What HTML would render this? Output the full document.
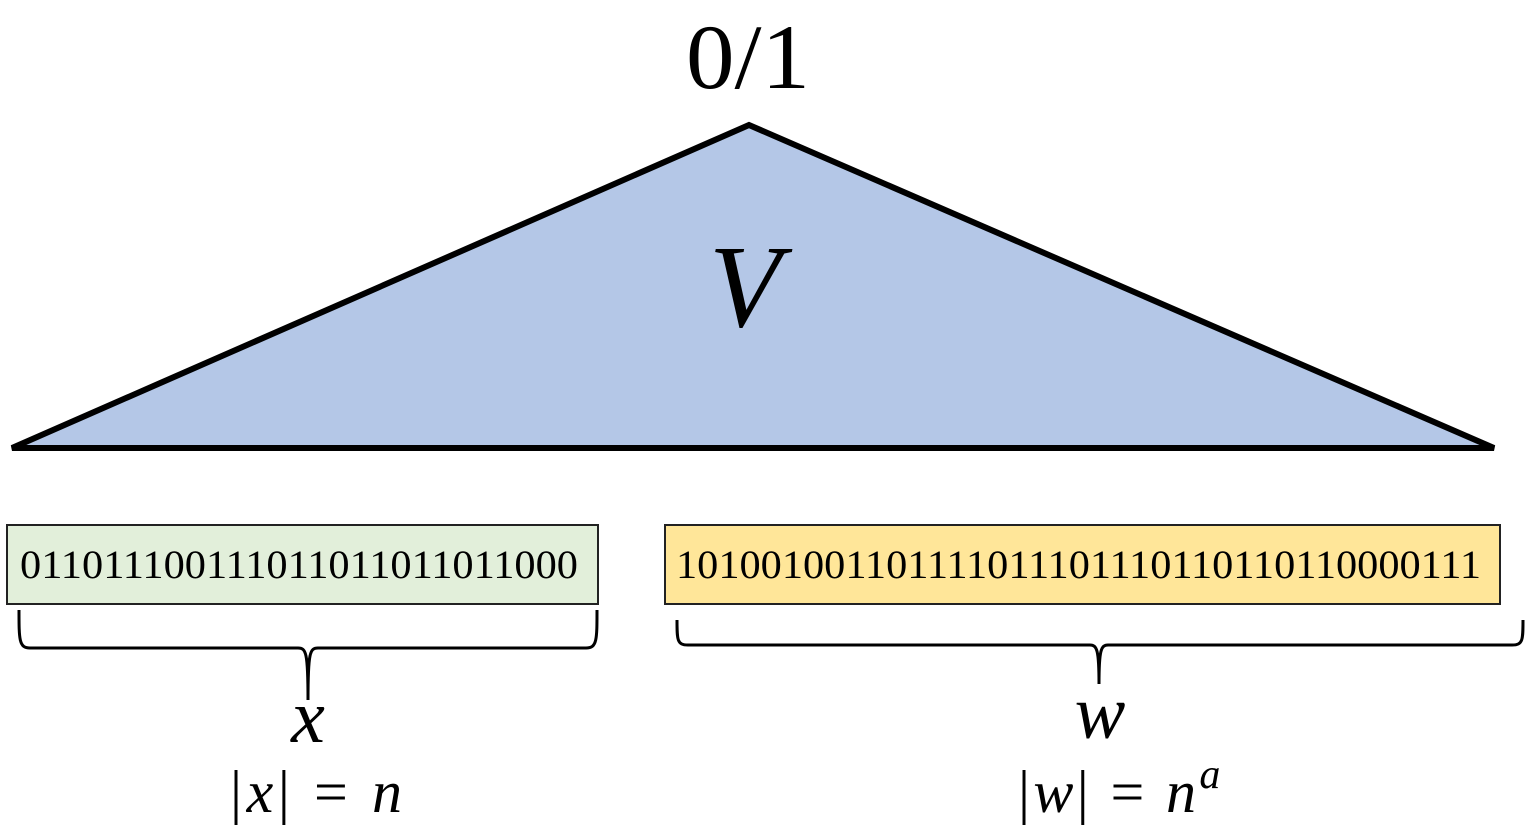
<!DOCTYPE html>
<html><head><meta charset="utf-8"><style>
html,body{margin:0;padding:0;background:#fff;}
svg{display:block;}
text{font-family:"Liberation Serif","DejaVu Serif",serif;fill:#000;}
</style></head><body>
<svg width="1526" height="833" viewBox="0 0 1526 833">
  <text x="686" y="88" font-size="92" textLength="124" lengthAdjust="spacingAndGlyphs">0/1</text>
  <polygon points="749,125 12,448 1494,448" fill="#b4c7e7" stroke="#000" stroke-width="6" stroke-linejoin="miter"/>
  <text x="745" y="326" font-size="118" font-style="italic" text-anchor="middle">V</text>

  <rect x="7" y="525" width="591" height="79" fill="#e2efda" stroke="#222" stroke-width="2"/>
  <text x="20" y="578" font-size="40" textLength="558" lengthAdjust="spacingAndGlyphs">011011100111011011011011000</text>

  <rect x="665" y="525" width="835" height="79" fill="#ffe699" stroke="#222" stroke-width="2"/>
  <text x="676" y="578" font-size="40" textLength="805" lengthAdjust="spacingAndGlyphs">101001001101111011101110110110110000111</text>

  <path d="M19,610 C19,640 19,648 30,648 L298,648 C306,648 308,652 308,700 C308,652 310,648 318,648 L586,648 C597,648 597,640 597,610" fill="none" stroke="#000" stroke-width="3"/>
  <path d="M677,620 C677,640 677,645 688,645 L1090,645 C1097,645 1099,650 1099,684 C1099,650 1101,645 1108,645 L1512,645 C1523,645 1523,640 1523,620" fill="none" stroke="#000" stroke-width="3"/>

  <text x="308" y="742" font-size="76" font-style="italic" text-anchor="middle">x</text>
  <text x="1100" y="738" font-size="76" font-style="italic" text-anchor="middle">w</text>

  <text x="230" y="812" font-size="60" textLength="172" lengthAdjust="spacing">|<tspan font-style="italic">x</tspan>| = <tspan font-style="italic">n</tspan></text>
  <text x="1018" y="812" font-size="60"><tspan textLength="178" lengthAdjust="spacing">|<tspan font-style="italic">w</tspan>| = <tspan font-style="italic">n</tspan></tspan><tspan font-style="italic" font-size="42" dy="-24">a</tspan></text>
</svg>
</body></html>
